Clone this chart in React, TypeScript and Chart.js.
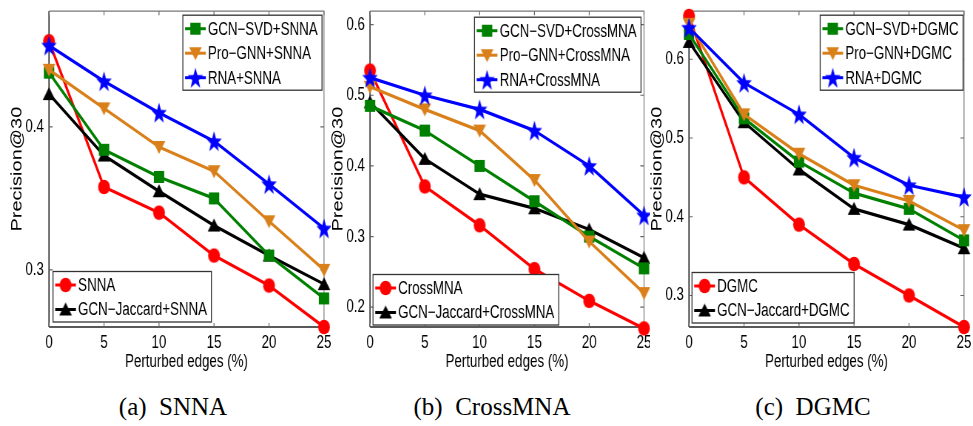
import React, { useEffect, useRef } from 'react';
import { Chart, registerables } from 'chart.js';

Chart.register(...registerables);

// ---------- data ----------
const perturbedEdges = ['0', '5', '10', '15', '20', '25'];

const snnaBase = [0.46, 0.358, 0.34, 0.31, 0.289, 0.26];
const snnaJaccard = [0.423, 0.38, 0.355, 0.331, 0.31, 0.29];
const snnaSvd = [0.438, 0.384, 0.365, 0.35, 0.31, 0.28];
const snnaProGnn = [0.44, 0.413, 0.386, 0.369, 0.334, 0.3];
const snnaRna = [0.457, 0.432, 0.41, 0.39, 0.36, 0.329];

const crossBase = [0.535, 0.371, 0.316, 0.254, 0.209, 0.17];
const crossJaccard = [0.49, 0.41, 0.36, 0.34, 0.31, 0.27];
const crossSvd = [0.485, 0.45, 0.4, 0.35, 0.3, 0.255];
const crossProGnn = [0.512, 0.48, 0.45, 0.38, 0.293, 0.22];
const crossRna = [0.525, 0.5, 0.48, 0.45, 0.4, 0.33];

const dgmcBase = [0.655, 0.45, 0.39, 0.34, 0.3, 0.26];
const dgmcJaccard = [0.622, 0.52, 0.46, 0.41, 0.39, 0.36];
const dgmcSvd = [0.632, 0.525, 0.47, 0.43, 0.41, 0.37];
const dgmcProGnn = [0.645, 0.53, 0.48, 0.44, 0.42, 0.383];
const dgmcRna = [0.64, 0.57, 0.53, 0.475, 0.44, 0.425];

const snnaTicks = [0.3, 0.4];
const crossTicks = [0.2, 0.3, 0.4, 0.5, 0.6];
const dgmcTicks = [0.3, 0.4, 0.5, 0.6];

const yTitle = 'Precision@30';
const xTitle = 'Perturbed edges (%)';

// ---------- styling ----------
const S = 0.74; // horizontal squeeze of the figure
const FONT = '"Liberation Sans", Arial, Helvetica, sans-serif';
const RED = '#FF0000';
const BLACK = '#000000';
const GREEN = '#008000';
const ORANGE = '#D9801A';
const BLUE = '#0000FF';

type Series = { label: string; data: number[]; color: string; marker: string; order: number };

function makeSeries(name: string, base: number[], jac: number[], svd: number[], pro: number[], rna: number[]): Series[] {
  return [
    { label: name, data: base, color: RED, marker: 'circle', order: 5 },
    { label: `GCN\u2212Jaccard+${name}`, data: jac, color: BLACK, marker: 'triangle', order: 4 },
    { label: `GCN\u2212SVD+${name}`, data: svd, color: GREEN, marker: 'square', order: 3 },
    { label: `Pro\u2212GNN+${name}`, data: pro, color: ORANGE, marker: 'triangleDown', order: 2 },
    { label: `RNA+${name}`, data: rna, color: BLUE, marker: 'star', order: 1 },
  ];
}

const markerCache: Record<string, HTMLCanvasElement> = {};
function makeMarker(shape: string, color: string): HTMLCanvasElement {
  const key = shape + color;
  if (markerCache[key]) return markerCache[key];
  const size = 26;
  const c = document.createElement('canvas');
  c.width = size;
  c.height = size;
  const g = c.getContext('2d')!;
  g.fillStyle = color;
  const cx = size / 2;
  const cy = size / 2;
  g.beginPath();
  if (shape === 'circle') {
    g.ellipse(cx, cy, 8, 7.3, 0, 0, Math.PI * 2);
  } else if (shape === 'square') {
    g.rect(cx - 7, cy - 6, 14, 12);
  } else if (shape === 'triangle') {
    g.moveTo(cx, cy - 7);
    g.lineTo(cx + 8.5, cy + 6);
    g.lineTo(cx - 8.5, cy + 6);
  } else if (shape === 'triangleDown') {
    g.moveTo(cx, cy + 7);
    g.lineTo(cx + 8.5, cy - 6);
    g.lineTo(cx - 8.5, cy - 6);
  } else if (shape === 'star') {
    const ro = 11;
    const ri = 4.5;
    for (let i = 0; i < 10; i++) {
      const r = i % 2 === 0 ? ro : ri;
      const a = -Math.PI / 2 + (i * Math.PI) / 5;
      const px = cx + r * Math.cos(a);
      const py = cy + 1 + r * Math.sin(a);
      if (i === 0) g.moveTo(px, py);
      else g.lineTo(px, py);
    }
  }
  g.closePath();
  g.fill();
  markerCache[key] = c;
  return c;
}

type PanelCfg = {
  axisX: number; // displayed x of the left axis
  areaW: number; // displayed width of plot area
  clipL: number;
  clipR: number;
  yMin: number;
  yMax: number;
  ticks: number[];
  series: Series[];
  caption: string;
  captionX: number;
  topLeg: { right: number; top: number };
  botLeg: { left: number; bottom: number };
};

const PANELS: PanelCfg[] = [
  {
    axisX: 49, areaW: 275, clipL: 0, clipR: 331,
    yMin: 0.26, yMax: 0.481, ticks: snnaTicks,
    series: makeSeries('SNNA', snnaBase, snnaJaccard, snnaSvd, snnaProGnn, snnaRna),
    caption: '(a)  SNNA', captionX: 173,
    topLeg: { right: 2, top: 4 }, botLeg: { left: 4, bottom: 5 },
  },
  {
    axisX: 370, areaW: 274, clipL: 321, clipR: 650,
    yMin: 0.172, yMax: 0.619, ticks: crossTicks,
    series: makeSeries('CrossMNA', crossBase, crossJaccard, crossSvd, crossProGnn, crossRna),
    caption: '(b)  CrossMNA', captionX: 492,
    topLeg: { right: 3, top: 6 }, botLeg: { left: 3, bottom: 2 },
  },
  {
    axisX: 689, areaW: 275, clipL: 640, clipR: 973,
    yMin: 0.26, yMax: 0.661, ticks: dgmcTicks,
    series: makeSeries('DGMC', dgmcBase, dgmcJaccard, dgmcSvd, dgmcProGnn, dgmcRna),
    caption: '(c)  DGMC', captionX: 813,
    topLeg: { right: 1, top: 4 }, botLeg: { left: 3, bottom: 4 },
  },
];

const CANVAS_H = 375;
const AREA_TOP = 4;
const AREA_BOTTOM = 327;
const Y_AXIS_DISP = 49;
const PAD_R = 18;

function drawLegend(ctx: CanvasRenderingContext2D, items: Series[], anchorX: number, anchorY: number, fromRight: boolean, fromBottom: boolean) {
  ctx.save();
  ctx.font = `18px ${FONT}`;
  const textW = Math.max(...items.map((i) => ctx.measureText(i.label).width));
  const padL = 3;
  const lineLen = 28;
  const gap = 3;
  const padR = 6;
  const topOff = 13.5;
  const rowH = 24.5;
  const botOff = 12.5;
  const w = padL + lineLen + gap + textW + padR;
  const h = topOff + rowH * (items.length - 1) + botOff;
  const x0 = fromRight ? anchorX - w : anchorX;
  const y0 = fromBottom ? anchorY - h : anchorY;
  ctx.fillStyle = '#FFFFFF';
  ctx.fillRect(x0, y0, w, h);
  ctx.strokeStyle = '#333333';
  ctx.lineWidth = 1.3;
  ctx.strokeRect(x0, y0, w, h);
  items.forEach((it, i) => {
    const cy = y0 + topOff + rowH * i;
    const lx = x0 + padL;
    ctx.strokeStyle = it.color;
    ctx.lineWidth = 3;
    ctx.beginPath();
    ctx.moveTo(lx, cy);
    ctx.lineTo(lx + lineLen, cy);
    ctx.stroke();
    const m = makeMarker(it.marker, it.color);
    ctx.drawImage(m, lx + lineLen / 2 - m.width / 2, cy - m.height / 2);
    ctx.fillStyle = '#000000';
    ctx.textBaseline = 'middle';
    ctx.textAlign = 'left';
    ctx.fillText(it.label, lx + lineLen + gap, cy + 1);
  });
  ctx.restore();
}

function Panel({ cfg }: { cfg: PanelCfg }) {
  const ref = useRef<HTMLCanvasElement>(null);
  const yAxisW = Y_AXIS_DISP / S;
  const areaW = cfg.areaW / S;
  const canvasW = Math.round(yAxisW + areaW + PAD_R);
  const padRight = canvasW - yAxisW - areaW;
  const left = cfg.axisX - Y_AXIS_DISP;

  useEffect(() => {
    const canvas = ref.current!;
    const decor = {
      id: 'decor',
      beforeDatasetsDraw(chart: any) {
        const { ctx, chartArea: a } = chart;
        const xs = chart.scales.x;
        const ys = chart.scales.y;
        ctx.save();
        // frame
        ctx.lineWidth = 1.2;
        ctx.strokeStyle = '#777777';
        ctx.beginPath();
        ctx.moveTo(a.left, a.top);
        ctx.lineTo(a.right, a.top);
        ctx.lineTo(a.right, a.bottom);
        ctx.stroke();
        ctx.strokeStyle = '#222222';
        ctx.lineWidth = 1.6;
        ctx.beginPath();
        ctx.moveTo(a.left, a.top);
        ctx.lineTo(a.left, a.bottom);
        ctx.stroke();
        ctx.lineWidth = 1.3;
        ctx.beginPath();
        ctx.moveTo(a.left, a.bottom);
        ctx.lineTo(a.right, a.bottom);
        ctx.stroke();
        // inward ticks
        ctx.strokeStyle = '#666666';
        ctx.lineWidth = 1.2;
        ctx.beginPath();
        perturbedEdges.forEach((_, i) => {
          const px = xs.getPixelForTick(i);
          ctx.moveTo(px, a.bottom);
          ctx.lineTo(px, a.bottom - 4);
          ctx.moveTo(px, a.top);
          ctx.lineTo(px, a.top + 4);
        });
        cfg.ticks.forEach((v) => {
          const py = ys.getPixelForValue(v);
          ctx.moveTo(a.left, py);
          ctx.lineTo(a.left + 5, py);
          ctx.moveTo(a.right, py);
          ctx.lineTo(a.right - 5, py);
        });
        ctx.stroke();
        ctx.restore();
      },
      afterDatasetsDraw(chart: any) {
        const { ctx, chartArea: a } = chart;
        const top = [cfg.series[2], cfg.series[3], cfg.series[4]];
        const bot = [cfg.series[0], cfg.series[1]];
        drawLegend(ctx, top, a.right - cfg.topLeg.right / S, a.top + cfg.topLeg.top, true, false);
        drawLegend(ctx, bot, a.left + cfg.botLeg.left / S, a.bottom - cfg.botLeg.bottom, false, true);
      },
    };

    const chart = new Chart(canvas, {
      type: 'line',
      data: {
        labels: perturbedEdges,
        datasets: cfg.series.map((s) => ({
          label: s.label,
          data: s.data,
          borderColor: s.color,
          backgroundColor: s.color,
          borderWidth: 3.2,
          pointStyle: makeMarker(s.marker, s.color) as any,
          pointRadius: 8,
          tension: 0,
          fill: false,
          order: s.order,
          clip: false as any,
          borderJoinStyle: 'round' as any,
        })),
      },
      options: {
        responsive: false,
        animation: false,
        events: [],
        layout: { padding: { left: 0, top: AREA_TOP, right: padRight, bottom: 0 } },
        plugins: { legend: { display: false }, tooltip: { enabled: false } },
        scales: {
          x: {
            type: 'category',
            offset: false,
            grid: { display: false, drawTicks: false },
            border: { display: false },
            ticks: { color: '#000', font: { family: FONT, size: 18 }, padding: 5, maxRotation: 0, autoSkip: false },
            title: { display: true, text: xTitle, color: '#000', font: { family: FONT, size: 18 }, padding: { top: 0, bottom: 2 } },
            afterFit: (sc: any) => {
              sc.height = CANVAS_H - AREA_BOTTOM;
              sc.paddingLeft = 0;
              sc.paddingRight = 0;
            },
          },
          y: {
            type: 'linear',
            min: cfg.yMin,
            max: cfg.yMax,
            grid: { display: false, drawTicks: false },
            border: { display: false },
            afterBuildTicks: (sc: any) => {
              sc.ticks = cfg.ticks.map((v) => ({ value: v }));
            },
            ticks: {
              color: '#000',
              font: { family: FONT, size: 18 },
              padding: 7,
              callback: (v: any) => Number(v).toFixed(1),
            },
            title: { display: true, text: yTitle, color: '#000', font: { family: FONT, size: 20 }, padding: { top: 11, bottom: 0 } },
            afterFit: (sc: any) => {
              sc.width = yAxisW;
              sc.paddingTop = 0;
              sc.paddingBottom = 0;
            },
          },
        },
      },
      plugins: [decor],
    } as any);
    return () => chart.destroy();
  }, []);

  return (
    <div
      style={{
        position: 'absolute',
        left: cfg.clipL,
        top: 0,
        width: cfg.clipR - cfg.clipL,
        height: CANVAS_H,
        overflow: 'hidden',
      }}
    >
      <canvas
        ref={ref}
        width={canvasW}
        height={CANVAS_H}
        style={{
          position: 'absolute',
          left: left - cfg.clipL,
          top: 0,
          width: canvasW,
          height: CANVAS_H,
          transform: `scaleX(${S})`,
          transformOrigin: '0 0',
        }}
      />
    </div>
  );
}

export default function App() {
  return (
    <div style={{ position: 'absolute', left: 0, top: 0, width: 973, height: 426, background: '#fff', overflow: 'hidden' }}>
      {PANELS.map((p, i) => (
        <Panel key={i} cfg={p} />
      ))}
      {PANELS.map((p, i) => (
        <div
          key={'c' + i}
          style={{
            position: 'absolute',
            left: p.captionX - 120,
            width: 240,
            top: 392,
            textAlign: 'center',
            fontFamily: '"Liberation Serif", "DejaVu Serif", serif',
            fontSize: 25,
            lineHeight: '30px',
            whiteSpace: 'pre',
            color: '#000',
          }}
        >
          {p.caption}
        </div>
      ))}
    </div>
  );
}
